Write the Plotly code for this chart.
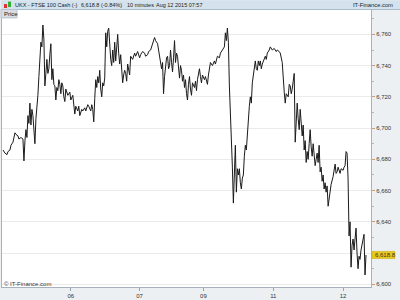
import plotly.graph_objects as go

# 10-minute bar index and price (FTSE 100 Cash)
bar = [0, 2, 4, 5, 7, 8, 10, 12, 13, 15,
       16, 18, 20, 21, 22, 23, 24, 25, 26, 27,
       28, 29, 30, 31, 32, 33, 34, 35, 36, 37,
       38, 39, 40, 41, 42, 43, 44, 45, 46, 47,
       48, 49, 50, 51, 52, 53, 54, 55, 56, 57,
       58, 59, 60, 61, 62, 63, 65, 67, 68, 70,
       71, 72, 73, 75, 76, 77, 79, 80, 82, 83,
       85, 86, 88, 89, 90, 91, 92, 93, 94, 95,
       96, 97, 98, 99, 100, 101, 102, 103, 104, 105,
       106, 107, 108, 109, 110, 111, 112, 113, 114, 115,
       116, 117, 118, 119, 120, 121, 122, 123, 124, 125,
       126, 127, 128, 130, 132, 133, 135, 137, 138, 140,
       142, 143, 145, 146, 148, 150, 152, 153, 155, 156,
       157, 159, 160, 161, 162, 163, 164, 165, 166, 167,
       168, 169, 170, 171, 172, 173, 174, 175, 176, 177,
       178, 179, 180, 181, 182, 183, 184, 185, 186, 187,
       188, 189, 190, 192, 193, 194, 195, 197, 198, 199,
       200, 202, 203, 205, 206, 208, 210, 212, 213, 215,
       217, 218, 220, 222, 223, 224, 225, 226, 227, 228,
       229, 230, 231, 232, 233, 234, 235, 236, 237, 238,
       239, 240, 241, 242, 243, 244, 245, 246, 247, 248,
       249, 250, 251, 252, 253, 254, 255, 256, 257, 258,
       259, 260, 262, 263, 264, 265, 267, 268, 270, 272,
       274, 275, 277, 278, 280, 281, 282, 283, 284, 286,
       287, 288, 289, 290, 291, 292, 293, 294, 295, 296,
       297, 298, 299, 300, 301, 302, 303, 304, 305, 306,
       307, 308, 309, 310, 311, 312, 313, 314, 315, 316,
       317, 318, 319, 320, 321, 322, 323, 324, 325, 326,
       327, 328, 329, 331, 332, 333, 334, 335, 336, 338,
       339, 341, 342, 343, 344, 345, 346, 347, 348, 349,
       350, 351, 352, 353, 354, 355, 356, 357, 358, 359,
       360, 361, 362, 363, 364]
price = [6686, 6684, 6683, 6685, 6686, 6689, 6691, 6697, 6696, 6695,
         6693, 6694, 6693, 6679, 6692, 6699, 6694, 6708, 6703, 6716,
         6702, 6712, 6708, 6700, 6690, 6706, 6712, 6721, 6733, 6748,
         6755, 6752, 6766, 6757, 6727, 6735, 6744, 6735, 6738, 6747,
         6754, 6731, 6738, 6728, 6727, 6718, 6726, 6724, 6731, 6728,
         6722, 6729, 6727, 6720, 6717, 6725, 6721, 6723, 6718, 6721,
         6716, 6709, 6714, 6711, 6714, 6708, 6712, 6711, 6713, 6711,
         6715, 6714, 6711, 6715, 6712, 6704, 6719, 6731, 6726, 6733,
         6729, 6737, 6725, 6720, 6729, 6727, 6732, 6761, 6752, 6762,
         6764, 6748, 6744, 6740, 6750, 6742, 6755, 6743, 6751, 6760,
         6748, 6741, 6747, 6736, 6729, 6734, 6737, 6735, 6730, 6741,
         6738, 6734, 6746, 6744, 6748, 6746, 6749, 6745, 6747, 6749,
         6748, 6746, 6747, 6749, 6750, 6754, 6758, 6756, 6754, 6750,
         6746, 6738, 6742, 6722, 6733, 6738, 6745, 6746, 6738, 6740,
         6750, 6742, 6736, 6745, 6756, 6742, 6748, 6746, 6738, 6732,
         6740, 6737, 6730, 6734, 6726, 6731, 6722, 6718, 6728, 6733,
         6725, 6721, 6729, 6726, 6730, 6724, 6731, 6738, 6733, 6729,
         6734, 6731, 6733, 6728, 6734, 6742, 6740, 6743, 6741, 6746,
         6745, 6748, 6750, 6752, 6761, 6756, 6764, 6755, 6727, 6712,
         6699, 6675, 6652, 6668, 6689, 6659, 6674, 6670, 6674, 6665,
         6661, 6668, 6670, 6682, 6689, 6686, 6697, 6706, 6714, 6720,
         6716, 6729, 6734, 6740, 6743, 6738, 6737, 6743, 6740, 6743,
         6738, 6741, 6744, 6746, 6744, 6748, 6750, 6752, 6750, 6751,
         6749, 6750, 6749, 6748, 6742, 6730, 6723, 6716, 6722, 6720,
         6728, 6727, 6722, 6725, 6730, 6735, 6691, 6705, 6716, 6706,
         6699, 6712, 6703, 6695, 6702, 6686, 6692, 6678, 6685, 6680,
         6690, 6699, 6688, 6682, 6690, 6683, 6676, 6680, 6684, 6678,
         6689, 6672, 6675, 6666, 6670, 6661, 6665, 6659, 6663, 6650,
         6656, 6659, 6664, 6669, 6673, 6677, 6671, 6672, 6675, 6671,
         6674, 6673, 6675, 6676, 6685, 6684, 6668, 6631, 6640, 6611,
         6625, 6629, 6622, 6630, 6636, 6620, 6610, 6618, 6616, 6622,
         6625, 6630, 6632, 6606, 6618.8]

y_ticks = [6600, 6620, 6640, 6660, 6680, 6700, 6720, 6740, 6760]
y_ticktext = ["6,600", "", "6,640", "6,660", "6,680", "6,700", "6,720", "6,740", "6,760"]
x_tickvals = [68, 137, 201, 271, 341]
x_ticktext = ["06", "07", "09", "11", "12"]
last_price = 6618.8
title_parts = ["UKX - FTSE 100 Cash (-)", "6,618.8 (-0.84%)", "10 minutes", "Aug 12 2015 07:57"]
title_x = [12, 78, 124, 153]

FONT = "Liberation Sans, Arial, sans-serif"
W, H = 400, 300
ML, MR, MT, MB = 1, 29, 10, 9
PW, PH = W - ML - MR, H - MT - MB


def px(x):
    return (x - ML) / PW


def py(y):
    return (H - MB - y) / PH


fig = go.Figure()
fig.add_trace(go.Scatter(x=bar, y=price, mode="lines",
                         line=dict(color="#1a1a1a", width=1), hoverinfo="skip"))

shapes = [
    dict(type="rect", xref="paper", yref="paper", x0=px(0), x1=px(400), y0=py(9.5), y1=py(0),
         fillcolor="#d3e2ec", line=dict(width=0), layer="above"),
    dict(type="line", xref="paper", yref="paper", x0=px(0), x1=px(400), y0=py(9.5), y1=py(9.5),
         line=dict(color="#a9bccb", width=1)),
    dict(type="rect", xref="paper", yref="paper", x0=px(0), x1=px(16), y0=py(18), y1=py(9.5),
         fillcolor="#d7dde3", line=dict(color="#b8c2cc", width=1), layer="above"),
    dict(type="rect", xref="paper", yref="paper", x0=px(3), x1=px(6), y0=py(8), y1=py(4),
         fillcolor="#e03030", line=dict(width=0), layer="above"),
    dict(type="rect", xref="paper", yref="paper", x0=px(7), x1=px(10), y0=py(7), y1=py(1.5),
         fillcolor="#30b030", line=dict(width=0), layer="above"),
    dict(type="rect", xref="paper", yref="y", x0=px(372), x1=px(395),
         y0=last_price - 2.3, y1=last_price + 2.3,
         fillcolor="#e8c81a", line=dict(color="#c8a810", width=0.5), layer="above"),
]

annotations = [
    dict(text="Price", xref="paper", yref="paper", x=px(1.5), y=py(13.8), xanchor="left", yanchor="middle",
         showarrow=False, font=dict(family=FONT, size=6, color="#222")),
    dict(text="IT-Finance.com", xref="paper", yref="paper", x=px(395), y=py(4.6), xanchor="right",
         yanchor="middle", showarrow=False, font=dict(family=FONT, size=5.8, color="#222")),
    dict(text="© IT-Finance.com", xref="paper", yref="paper", x=px(1), y=py(287.5), xanchor="left",
         yanchor="middle", showarrow=False, font=dict(family=FONT, size=6, color="#333")),
    dict(text=f"{last_price:,.1f}", xref="paper", yref="y", x=px(373.5), y=last_price, xanchor="left",
         yanchor="middle", showarrow=False, font=dict(family=FONT, size=6, color="#333")),
]
for t, x in zip(title_parts, title_x):
    annotations.append(dict(text=t, xref="paper", yref="paper", x=px(x), y=py(4.6), xanchor="left",
                            yanchor="middle", showarrow=False, font=dict(family=FONT, size=5.5, color="#222")))

fig.update_layout(
    width=W, height=H,
    margin=dict(l=ML, r=MR, t=MT, b=MB, pad=0),
    paper_bgcolor="#edf0f3",
    plot_bgcolor="#ffffff",
    showlegend=False,
    shapes=shapes,
    annotations=annotations,
    xaxis=dict(range=[-1, 369], tickvals=x_tickvals, ticktext=x_ticktext, ticks="outside", ticklen=3,
               tickcolor="#9aa4ae", showgrid=False, zeroline=False, showline=True, linecolor="#a8b2bc",
               tickfont=dict(family=FONT, size=6, color="#333"), ticklabelstandoff=0),
    yaxis=dict(range=[6598.3, 6775.6], side="right", tickvals=y_ticks, ticktext=y_ticktext, ticks="outside",
               ticklen=3, tickcolor="#c0a080", showgrid=True, gridcolor="#ebebeb", gridwidth=1,
               zeroline=False, showline=True, mirror=True, linecolor="#a8b2bc",
               tickfont=dict(family=FONT, size=6, color="#333"), ticklabelstandoff=0,
               minor=dict(dtick=10, ticks="outside", ticklen=2, tickcolor="#b0b8c0", showgrid=False)),
)

fig.write_html("out.html")
